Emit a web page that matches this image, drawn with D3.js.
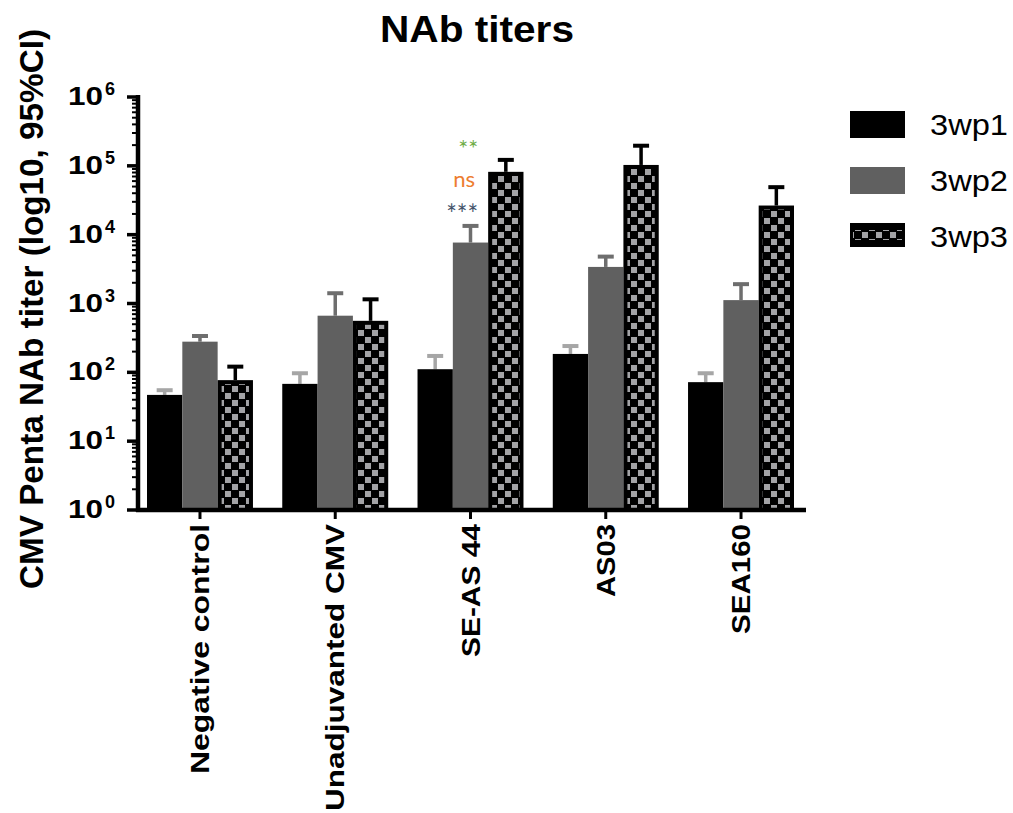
<!DOCTYPE html>
<html><head><meta charset="utf-8">
<script src="https://cdn.jsdelivr.net/npm/d3@7"></script>
<style>body{margin:0;background:#fff}svg{display:block;font-family:Arial,"Liberation Sans",sans-serif}</style>
</head><body><svg id="c" width="1013" height="813"></svg>
<script>
const categories = ["Negative control","Unadjuvanted CMV","SE-AS 44","AS03","SEA160"];
const categoryLabelLengths = [250, 287, 133, 73, 110];
const seriesNames = ["3wp1","3wp2","3wp3"];
const means = {
  "3wp1": [47, 68, 111, 185, 72],
  "3wp2": [279, 665, 7680, 3400, 1120],
  "3wp3": [77, 560, 81800, 103000, 26500]
};
const upper = {
  "3wp1": [55, 97, 173, 241, 97],
  "3wp2": [337, 1410, 13400, 4800, 1910],
  "3wp3": [121, 1150, 122000, 196000, 49000]
};
const yTicks = [1,10,100,1000,10000,100000,1000000];
const annotations = [
  {cat:"SE-AS 44", text:"**", color:"#70ad47", value:134000, size:24, len:20, dx:0},
  {cat:"SE-AS 44", text:"ns", color:"#ed7d31", value:49000, size:22, len:22, dx:3},
  {cat:"SE-AS 44", text:"***", color:"#44546a", value:14500, size:26, len:32, dx:0}
];

(function(){
const svg = d3.select("#c");
const mL = 138, mR = 806, mT = 97, mB = 510;
const y = d3.scaleLog().domain([1,1e6]).range([mB, mT]);
const x0 = d3.scaleBand().domain(categories).range([147, 794]).paddingInner(0.2166).paddingOuter(0);
const xs = d3.scaleBand().domain(seriesNames).range([0, x0.bandwidth()]);

const defs = svg.append("defs");
const pat = defs.append("pattern").attr("id","checker").attr("patternUnits","userSpaceOnUse")
  .attr("width",14).attr("height",14);
pat.append("rect").attr("width",14).attr("height",14).attr("fill","#000");
pat.append("rect").attr("x",1).attr("y",1).attr("width",6).attr("height",6).attr("fill","#a3a3a6");
pat.append("rect").attr("x",8).attr("y",8).attr("width",6).attr("height",6).attr("fill","#a3a3a6");

const fills = {"3wp1":"#000","3wp2":"#606060","3wp3":"url(#checker)"};
const errColor = {"3wp1":"#a6a6a6","3wp2":"#6e6e6e","3wp3":"#000"};

svg.append("text").attr("x",380).attr("y",42)
  .attr("font-size",37).attr("font-weight","bold")
  .attr("textLength",194).attr("lengthAdjust","spacingAndGlyphs").text("NAb titers");

svg.append("text").attr("transform","translate(43,309) rotate(-90)").attr("text-anchor","middle")
  .attr("font-size",34).attr("font-weight","bold")
  .attr("textLength",560).attr("lengthAdjust","spacingAndGlyphs")
  .text("CMV Penta NAb titer (log10, 95%CI)");

const g = svg.append("g");
seriesNames.forEach(s => {
  categories.forEach((c,i) => {
    const bx = x0(c) + xs(s), bw = xs.bandwidth();
    const cx = bx + bw/2;
    const yt = y(means[s][i]);
    const yu = y(upper[s][i]);
    g.append("line").attr("x1",cx).attr("x2",cx).attr("y1",yt).attr("y2",yu)
      .attr("stroke",errColor[s]).attr("stroke-width",3.5);
    g.append("line").attr("x1",cx-8).attr("x2",cx+8).attr("y1",yu).attr("y2",yu)
      .attr("stroke",errColor[s]).attr("stroke-width",4);
    if (s === "3wp3") {
      g.append("rect").attr("x",bx+2).attr("y",yt+2).attr("width",bw-4).attr("height",mB-yt-2)
        .attr("fill","url(#checker)").attr("stroke","#000").attr("stroke-width",4);
    } else {
      g.append("rect").attr("x",bx).attr("y",yt).attr("width",bw).attr("height",mB-yt)
        .attr("fill",fills[s]);
    }
  });
});

annotations.forEach(a => {
  svg.append("text").attr("x", x0(a.cat)+xs("3wp2")+xs.bandwidth()-10-a.dx).attr("y", y(a.value))
    .attr("text-anchor","end").attr("font-size", a.size).attr("fill",a.color)
    .attr("textLength",a.len).attr("lengthAdjust","spacingAndGlyphs")
    .attr("font-family","Lato,'Open Sans',sans-serif").text(a.text);
});

const ya = svg.append("g").attr("transform",`translate(${mL},0)`);
ya.append("line").attr("x1",0).attr("x2",0).attr("y1",mT-2).attr("y2",mB+2).attr("stroke","#000").attr("stroke-width",4.5);
const minor = [];
for (let d=1; d<1e6; d*=10) for (let k=2;k<10;k++) minor.push(d*k);
ya.selectAll(".mn").data(minor).join("line").attr("x1",-6).attr("x2",0)
  .attr("y1",d=>y(d)).attr("y2",d=>y(d)).attr("stroke","#000").attr("stroke-width",2);
ya.selectAll(".mj").data(yTicks).join("line").attr("x1",-11).attr("x2",0)
  .attr("y1",d=>y(d)).attr("y2",d=>y(d)).attr("stroke","#000").attr("stroke-width",3.5);
ya.selectAll(".lb").data(yTicks).join("text").attr("x",68-mL).attr("y",d=>y(d)+8)
  .attr("font-size",25).attr("font-weight","bold")
  .attr("textLength",35).attr("lengthAdjust","spacingAndGlyphs").text("10");
ya.selectAll(".ex").data(yTicks).join("text").attr("x",105-mL).attr("y",d=>y(d)-2)
  .attr("font-size",18).attr("font-weight","bold")
  .text(d=>Math.round(Math.log10(d)));

svg.append("line").attr("x1",mL-2).attr("x2",mR).attr("y1",mB).attr("y2",mB).attr("stroke","#000").attr("stroke-width",4.5);
categories.forEach((c,i) => {
  const cx = x0(c)+x0.bandwidth()/2;
  svg.append("line").attr("x1",cx).attr("x2",cx).attr("y1",mB).attr("y2",mB+9).attr("stroke","#000").attr("stroke-width",3);
  svg.append("text").attr("transform",`translate(${cx+9},${mB+14}) rotate(-90)`)
    .attr("text-anchor","end").attr("font-size",25).attr("font-weight","bold")
    .attr("textLength",categoryLabelLengths[i]).attr("lengthAdjust","spacingAndGlyphs")
    .text(c);
});

const lg = svg.append("g");
seriesNames.forEach((s,i) => {
  const ly = 111 + i*56;
  if (s==="3wp3") {
    lg.append("rect").attr("x",850).attr("y",ly).attr("width",55).attr("height",24).attr("fill","#000");
    lg.append("rect").attr("x",853).attr("y",ly+7).attr("width",49).attr("height",10).attr("fill","url(#checker)");
  } else {
    lg.append("rect").attr("x",850).attr("y",ly).attr("width",55).attr("height",27).attr("fill",fills[s]);
  }
  lg.append("text").attr("x",930).attr("y",ly+24).attr("font-size",30)
    .attr("textLength",78).attr("lengthAdjust","spacingAndGlyphs").text(s);
});
})();
</script></body></html>
